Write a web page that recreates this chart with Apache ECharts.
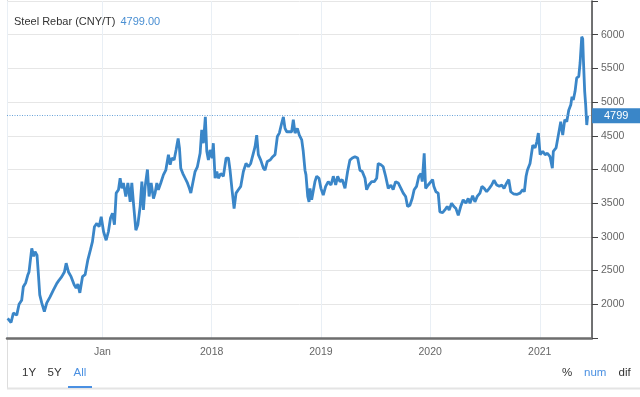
<!DOCTYPE html>
<html>
<head>
<meta charset="utf-8">
<title>Steel Rebar</title>
<script src="https://cdn.jsdelivr.net/npm/echarts@6/dist/echarts.min.js"></script>
<style>
    html, body { margin: 0; padding: 0; background: #fff; }
    #chart { width: 640px; height: 397px; }
</style>
</head>
<body>
<div id="chart"></div>
<script>
// dates as decimal years
const dates = [
    2016.135, 2016.166, 2016.187, 2016.218, 2016.239, 2016.263, 2016.278, 2016.300, 2016.318, 2016.330,
    2016.355, 2016.373, 2016.385, 2016.403, 2016.415, 2016.428, 2016.446, 2016.470, 2016.492, 2016.522,
    2016.552, 2016.584, 2016.605, 2016.629, 2016.653, 2016.669, 2016.690, 2016.714, 2016.742, 2016.760,
    2016.776, 2016.794, 2016.818, 2016.842, 2016.867, 2016.891, 2016.909, 2016.927, 2016.949, 2016.970,
    2016.989, 2017.010, 2017.034, 2017.055, 2017.074, 2017.092, 2017.110, 2017.126, 2017.147, 2017.162,
    2017.178, 2017.192, 2017.214, 2017.233, 2017.254, 2017.269, 2017.284, 2017.306, 2017.324, 2017.345,
    2017.361, 2017.375, 2017.391, 2017.412, 2017.427, 2017.446, 2017.467, 2017.482, 2017.498, 2017.512,
    2017.534, 2017.558, 2017.580, 2017.604, 2017.620, 2017.635, 2017.656, 2017.674, 2017.693, 2017.705,
    2017.717, 2017.736, 2017.757, 2017.778, 2017.796, 2017.809, 2017.827, 2017.848, 2017.869, 2017.894,
    2017.909, 2017.924, 2017.942, 2017.955, 2017.970, 2017.985, 2018.004, 2018.015, 2018.031, 2018.047,
    2018.061, 2018.083, 2018.107, 2018.132, 2018.153, 2018.168, 2018.186, 2018.205, 2018.223, 2018.244,
    2018.266, 2018.290, 2018.314, 2018.336, 2018.357, 2018.381, 2018.397, 2018.412, 2018.427, 2018.449,
    2018.473, 2018.488, 2018.509, 2018.534, 2018.559, 2018.580, 2018.601, 2018.619, 2018.641, 2018.656,
    2018.671, 2018.687, 2018.710, 2018.732, 2018.747, 2018.763, 2018.784, 2018.802, 2018.824, 2018.838,
    2018.854, 2018.863, 2018.879, 2018.891, 2018.900, 2018.915, 2018.930, 2018.945, 2018.961, 2018.982,
    2019.000, 2019.021, 2019.043, 2019.067, 2019.092, 2019.113, 2019.135, 2019.153, 2019.174, 2019.195,
    2019.220, 2019.244, 2019.265, 2019.287, 2019.311, 2019.336, 2019.357, 2019.378, 2019.403, 2019.418,
    2019.439, 2019.464, 2019.488, 2019.510, 2019.524, 2019.549, 2019.570, 2019.592, 2019.616, 2019.640,
    2019.661, 2019.683, 2019.707, 2019.732, 2019.753, 2019.775, 2019.793, 2019.814, 2019.835, 2019.853,
    2019.875, 2019.896, 2019.915, 2019.927, 2019.945, 2019.958, 2019.981, 2020.022, 2020.033, 2020.052,
    2020.073, 2020.088, 2020.113, 2020.134, 2020.155, 2020.173, 2020.195, 2020.216, 2020.235, 2020.256,
    2020.278, 2020.301, 2020.326, 2020.347, 2020.363, 2020.387, 2020.408, 2020.429, 2020.454, 2020.472,
    2020.493, 2020.515, 2020.539, 2020.561, 2020.582, 2020.607, 2020.631, 2020.653, 2020.674, 2020.698,
    2020.717, 2020.735, 2020.759, 2020.790, 2020.820, 2020.845, 2020.859, 2020.875, 2020.887, 2020.911,
    2020.936, 2020.957, 2020.973, 2020.987, 2021.003, 2021.027, 2021.049, 2021.070, 2021.094, 2021.115,
    2021.124, 2021.149, 2021.170, 2021.192, 2021.210, 2021.229, 2021.247, 2021.265, 2021.284, 2021.295,
    2021.307, 2021.323, 2021.338, 2021.357, 2021.369, 2021.384, 2021.393, 2021.399, 2021.411, 2021.420,
    2021.430, 2021.438
];

// CNY per tonne
const prices = [
    1790, 1730, 1870, 1840, 2000, 2060, 2260, 2320, 2430, 2480,
    2830, 2710, 2780, 2730, 2460, 2140, 2020, 1890, 2020, 2110,
    2210, 2310, 2360, 2410, 2480, 2610, 2480, 2410, 2290, 2240,
    2300, 2170, 2410, 2440, 2660, 2810, 2930, 3150, 3200, 3150,
    3300, 3080, 2950, 3080, 3280, 3350, 3180, 3650, 3700, 3870,
    3720, 3800, 3600, 3800, 3520, 3800, 3500, 3100, 3180, 3450,
    3820, 3400, 3750, 4000, 3600, 3800, 3570, 3650, 3800, 3700,
    3800, 3920, 3990, 4220, 4070, 4170, 4140, 4290, 4460, 4320,
    4020, 3940, 3870, 3800, 3720, 3650, 3800, 3970, 4040, 4240,
    4590, 4390, 4780, 4270, 4140, 4290, 4170, 4390, 3870, 3970,
    3870, 3940, 3900, 4170, 4170, 3990, 3700, 3420, 3650, 3700,
    3750, 3970, 4090, 4040, 4090, 4240, 4340, 4510, 4220, 4140,
    4020, 3990, 4120, 4140, 4190, 4220, 4490, 4540, 4690, 4780,
    4610, 4560, 4560, 4560, 4740, 4540, 4610, 4510, 4440, 4270,
    3990, 3920, 3600, 3520, 3720, 3550, 3570, 3820, 3900, 3870,
    3720, 3620, 3750, 3820, 3770, 3900, 3770, 3900, 3820, 3850,
    3720, 3970, 4140, 4170, 4190, 4170, 3990, 3970, 3870, 3700,
    3770, 3820, 3820, 3870, 4090, 4070, 4040, 3900, 3720, 3770,
    3700, 3820, 3800, 3720, 3650, 3600, 3450, 3470, 3570, 3700,
    3750, 3900, 3940, 3820, 4240, 3720, 3770, 3850, 3750, 3670,
    3650, 3370, 3360, 3400, 3450, 3400, 3500, 3450, 3420, 3320,
    3450, 3550, 3500, 3570, 3500, 3610, 3520, 3600, 3650, 3750,
    3720, 3670, 3720, 3770, 3840, 3770, 3750, 3770, 3720, 3800,
    3850, 3670, 3640, 3630, 3650, 3700, 3670, 3900, 3990, 4090,
    4360, 4320, 4410, 4540, 4220, 4270, 4220, 4240, 4190, 4020,
    4270, 4320, 4510, 4710, 4510, 4740, 4710, 4880, 4960, 5080,
    5030, 5160, 5360, 5380, 5580, 5970, 5940, 5640, 5160, 4960,
    4660, 4799
];

const lastPrice = 4799;
const axisStart = 2016.129;
const axisEnd = 2021.478;

const blue = '#3a86c8';
const font = '"Liberation Sans", Arial, sans-serif';

// decimal year -> timestamp
const toTime = y => {
    const yr = Math.floor(y);
    const s = Date.UTC(yr, 0, 1);
    const e = Date.UTC(yr + 1, 0, 1);
    return s + (y - yr) * (e - s);
};

const seriesData = dates.map((d, i) => [toTime(d), prices[i]]);

const chart = echarts.init(document.getElementById('chart'));

const option = {
    animation: false,
    backgroundColor: '#fff',
    textStyle: { fontFamily: font },
    title: {
        text: '{a|Steel Rebar (CNY/T)} {b|' + lastPrice.toFixed(2) + '}',
        left: 9,
        top: 8,
        textStyle: {
            fontWeight: 'normal',
            rich: {
                a: { color: '#333', fontSize: 11, fontWeight: 'normal', fontFamily: font },
                b: { color: '#4a8fd2', fontSize: 11, fontWeight: 'normal', fontFamily: font }
            }
        }
    },
    grid: {
        left: 7,
        right: 48,
        top: 1,
        bottom: 59
    },
    xAxis: {
        type: 'time',
        min: toTime(axisStart),
        max: toTime(axisEnd),
        minInterval: 365 * 24 * 3600 * 1000,
        axisLine: {
            show: true,
            lineStyle: { color: '#6e6e6e', width: 2.5 }
        },
        axisTick: { show: false },
        axisLabel: {
            color: '#666',
            fontSize: 10.5,
            margin: 9,
            formatter: value => {
                const yr = new Date(value).getUTCFullYear();
                return yr === 2017 ? 'Jan' : String(yr);
            }
        },
        splitLine: {
            show: true,
            lineStyle: { color: '#e9eff5', width: 1 }
        }
    },
    yAxis: {
        type: 'value',
        position: 'right',
        min: 1500,
        max: 6500,
        interval: 500,
        axisLine: {
            show: true,
            lineStyle: { color: '#444', width: 1.5 }
        },
        axisTick: {
            show: true,
            length: 6,
            lineStyle: { color: '#444' }
        },
        axisLabel: {
            color: '#666',
            fontSize: 10.5,
            margin: 9,
            formatter: v => (v === 1500 || v === 6500 ? '' : v)
        },
        splitLine: {
            lineStyle: { color: '#e6e6e6', width: 1 }
        }
    },
    series: [{
        type: 'line',
        data: seriesData,
        showSymbol: false,
        symbol: 'none',
        lineStyle: { color: blue, width: 2.8 },
        markLine: {
            silent: true,
            symbol: 'none',
            lineStyle: { color: '#6aa3d8', type: [1, 1.5], width: 1 },
            label: {
                position: 'end',
                distance: 0,
                formatter: String(lastPrice),
                color: '#fff',
                fontSize: 11,
                fontFamily: font,
                backgroundColor: blue,
                padding: [3, 12, 2, 12],
                lineHeight: 10
            },
            data: [{ yAxis: lastPrice }]
        }
    }],
    graphic: [
        // frame lines
        { type: 'line', shape: { x1: 7.5, y1: 0, x2: 7.5, y2: 389 }, style: { stroke: '#dddddd', lineWidth: 1 } },
        { type: 'line', shape: { x1: 7, y1: 388.5, x2: 640, y2: 388.5 }, style: { stroke: '#e4e4e4', lineWidth: 2 } },
        // range buttons
        { type: 'text', style: { text: '1Y', x: 22, y: 373, fill: '#333', font: '11.5px ' + font, verticalAlign: 'middle' } },
        { type: 'text', style: { text: '5Y', x: 47.5, y: 373, fill: '#333', font: '11.5px ' + font, verticalAlign: 'middle' } },
        { type: 'text', style: { text: 'All', x: 73.5, y: 373, fill: '#4a90e2', font: '11.5px ' + font, verticalAlign: 'middle' } },
        { type: 'rect', shape: { x: 68, y: 386, width: 24, height: 2 }, style: { fill: '#4a90e2' } },
        { type: 'text', style: { text: '%', x: 562, y: 373, fill: '#333', font: '11.5px ' + font, verticalAlign: 'middle' } },
        { type: 'text', style: { text: 'num', x: 584, y: 373, fill: '#4a90e2', font: '11.5px ' + font, verticalAlign: 'middle' } },
        { type: 'text', style: { text: 'dif', x: 618.5, y: 373, fill: '#333', font: '11.5px ' + font, verticalAlign: 'middle' } }
    ]
};

chart.setOption(option);
</script>
</body>
</html>
